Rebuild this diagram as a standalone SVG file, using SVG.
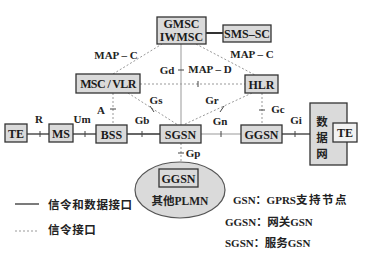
<svg xmlns="http://www.w3.org/2000/svg" width="367" height="255" viewBox="0 0 367 255">
<style>
.box{fill:#dadada;stroke:#333;stroke-width:1.3}
.wbox{fill:#f2f2f2;stroke:#333;stroke-width:1.3}
.t{font-family:"Liberation Serif","Times New Roman",serif;font-weight:bold;font-size:12px;fill:#1a1a1a;text-anchor:middle}
.l{font-family:"Liberation Serif","Times New Roman",serif;font-weight:bold;font-size:11px;fill:#222;text-anchor:middle}
.c{font-family:"Noto Sans CJK SC","Liberation Serif",sans-serif;font-weight:bold;font-size:11.5px;fill:#222}
.cl{font-family:"Liberation Serif","Noto Sans CJK SC",serif;font-weight:bold;font-size:11px;fill:#222}
.solid{stroke:#333;stroke-width:1.3;fill:none}
.light{stroke:#999;stroke-width:1;fill:none}
.dot{stroke:#999;stroke-width:1;stroke-dasharray:2,2;fill:none}
.tick{stroke:#444;stroke-width:1}
</style>
<rect width="367" height="255" fill="#fff"/>
<g id="connectors">
<line class="solid" x1="206" y1="33" x2="223" y2="33" style="stroke-width:2"/>
<line class="solid" x1="27" y1="134" x2="49" y2="134"/>
<line class="solid" x1="73" y1="134" x2="96" y2="134"/>
<line class="solid" x1="127" y1="134" x2="160" y2="134"/>
<line class="light" x1="201" y1="134" x2="241" y2="134"/>
<line class="solid" x1="282" y1="134" x2="310" y2="134"/>
<line class="dot" x1="113" y1="93" x2="113" y2="125"/>
<line class="dot" x1="128" y1="93" x2="178" y2="125"/>
<line class="dot" x1="252" y1="93" x2="183" y2="125"/>
<line class="dot" x1="262" y1="93" x2="262" y2="125"/>
<line class="light" x1="181" y1="44" x2="181" y2="125"/>
<line class="dot" x1="140" y1="84" x2="245" y2="84"/>
<line class="dot" x1="113" y1="74" x2="162" y2="44"/>
<line class="dot" x1="196" y1="44" x2="255" y2="75"/>
<line class="dot" x1="181" y1="143" x2="181" y2="162"/>
<g id="ticks">
<line class="tick" x1="40" y1="131" x2="40" y2="137"/>
<line class="tick" x1="85" y1="131" x2="85" y2="137"/>
<line class="tick" x1="142" y1="131" x2="142" y2="137"/>
<line class="tick" x1="221" y1="131" x2="221" y2="137"/>
<line class="tick" x1="295" y1="131" x2="295" y2="137"/>
<line class="tick" x1="110" y1="109" x2="116" y2="109"/>
<line class="tick" x1="150" y1="106" x2="154" y2="112"/>
<line class="tick" x1="224" y1="106" x2="220" y2="112"/>
<line class="tick" x1="259" y1="110" x2="265" y2="110"/>
<line class="tick" x1="178" y1="70" x2="184" y2="70"/>
<line class="tick" x1="198" y1="81" x2="198" y2="87"/>
<line class="tick" x1="178" y1="153" x2="184" y2="153"/>
</g>
</g>
<g id="labels">
<text class="l" x="39" y="123">R</text>
<text class="l" x="82" y="123">Um</text>
<text class="l" x="142" y="124">Gb</text>
<text class="l" x="101" y="114">A</text>
<text class="l" x="156" y="104">Gs</text>
<text class="l" x="212" y="104">Gr</text>
<text class="l" x="220" y="125">Gn</text>
<text class="l" x="278" y="113">Gc</text>
<text class="l" x="296" y="124">Gi</text>
<text class="l" x="167" y="74">Gd</text>
<text class="l" x="193" y="157">Gp</text>
<text class="l" x="116" y="59">MAP – C</text>
<text class="l" x="252" y="58">MAP – C</text>
<text class="l" x="210" y="73">MAP – D</text>
</g>
<g id="GMSC"><rect class="box" x="157" y="17" width="49" height="27"/>
<text class="t" x="181.5" y="28" font-size="11">GMSC</text><text class="t" x="181.5" y="41" font-size="11">IWMSC</text></g>
<g id="SMSC"><rect class="box" x="223" y="25" width="48" height="17"/><text class="t" x="247" y="37.5" font-size="11">SMS–SC</text></g>
<g id="MSCVLR"><rect class="box" x="76" y="74" width="64" height="19"/><text class="t" x="108" y="88" letter-spacing="-0.6">MSC / VLR</text></g>
<g id="HLR"><rect class="box" x="245" y="75" width="33" height="18"/><text class="t" x="261.5" y="89">HLR</text></g>
<g id="TE1"><rect class="box" x="5" y="124" width="22" height="18"/><text class="t" x="16" y="138">TE</text></g>
<g id="MS"><rect class="box" x="49" y="124" width="24" height="18"/><text class="t" x="61" y="138">MS</text></g>
<g id="BSS"><rect class="box" x="96" y="125" width="31" height="18"/><text class="t" x="111.5" y="139">BSS</text></g>
<g id="SGSN"><rect class="box" x="160" y="125" width="41" height="18"/><text class="t" x="180.5" y="139">SGSN</text></g>
<g id="GGSN"><rect class="box" x="241" y="125" width="41" height="18"/><text class="t" x="261.5" y="139">GGSN</text></g>
<g id="datanet"><rect class="box" x="310" y="103" width="37" height="62"/>
<text class="c" x="322" y="126" text-anchor="middle" font-size="14">数</text>
<text class="c" x="322" y="142" text-anchor="middle" font-size="14">据</text>
<text class="c" x="322" y="158" text-anchor="middle" font-size="14">网</text></g>
<g id="TE2"><rect class="wbox" x="333" y="123" width="24" height="19"/><text class="t" x="345" y="137">TE</text></g>
<g id="PLMN"><ellipse cx="180" cy="190" rx="45" ry="28" fill="#dadada" stroke="#555" stroke-width="1.2"/>
<rect class="box" x="159" y="169" width="39" height="18"/><text class="t" x="178.5" y="183">GGSN</text>
<text class="c" x="180" y="205" text-anchor="middle" font-size="12">其他<tspan font-family="Liberation Serif">PLMN</tspan></text></g>
<g id="legend">
<line class="solid" x1="15" y1="204" x2="39" y2="204"/>
<text class="c" x="48" y="209" letter-spacing="0.6">信令和数据接口</text>
<line class="dot" x1="15" y1="231" x2="39" y2="231"/>
<text class="c" x="48" y="234" letter-spacing="0.6">信令接口</text>
<text class="cl" x="233" y="204">GSN：GPRS<tspan class="c" font-size="11.5" letter-spacing="1.5">支持节点</tspan></text>
<text class="cl" x="225" y="226">GGSN：<tspan class="c" font-size="11.5">网关</tspan>GSN</text>
<text class="cl" x="225" y="247">SGSN：<tspan class="c" font-size="11.5">服务</tspan>GSN</text>
</g>
</svg>
